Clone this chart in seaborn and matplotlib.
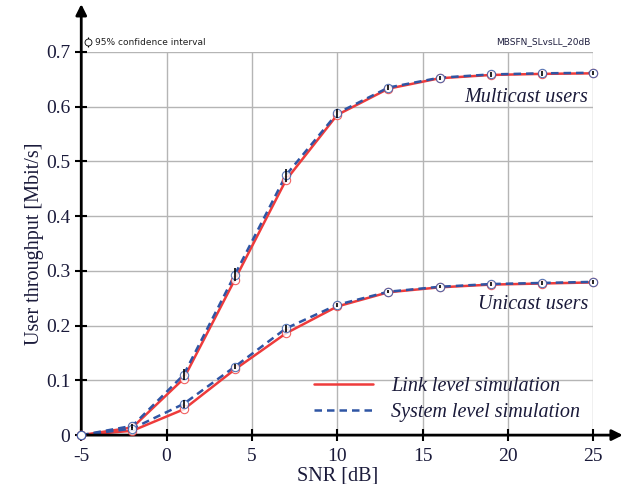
import numpy as np
import pandas as pd
import matplotlib
matplotlib.use("Agg")
import matplotlib.pyplot as plt
import seaborn as sns

snr = [-5, -2, 1, 4, 7, 10, 13, 16, 19, 22, 25]
multi_link = [0.0, 0.014, 0.103, 0.284, 0.466, 0.585, 0.633, 0.652, 0.658, 0.660, 0.661]
multi_sys = [0.0, 0.017, 0.110, 0.293, 0.475, 0.588, 0.635, 0.653, 0.659, 0.661, 0.662]
uni_link = [0.0, 0.008, 0.047, 0.120, 0.186, 0.235, 0.261, 0.270, 0.275, 0.277, 0.279]
uni_sys = [0.0, 0.012, 0.057, 0.125, 0.195, 0.238, 0.262, 0.271, 0.276, 0.278, 0.280]
multi_ci = [0.0, 0.004, 0.010, 0.012, 0.012, 0.008, 0.005, 0.004, 0.004, 0.004, 0.004]
uni_ci = [0.0, 0.003, 0.007, 0.005, 0.007, 0.004, 0.003, 0.003, 0.003, 0.003, 0.003]
xticks = [-5, 0, 5, 10, 15, 20, 25]
xticklabels = ["-5", "0", "5", "10", "15", "20", "25"]
yticks = [0, 0.1, 0.2, 0.3, 0.4, 0.5, 0.6, 0.7]
yticklabels = ["0", "0.1", "0.2", "0.3", "0.4", "0.5", "0.6", "0.7"]

sns.set_theme(style="whitegrid")
plt.rcParams["font.family"] = ["Liberation Serif", "DejaVu Serif"]

RED = "#ee3b3b"
BLUE = "#2f55a4"
TXT = "#1a1a3a"

rows = []
for name, vals, sim in [("multi", multi_link, "Link level simulation"),
                        ("multi", multi_sys, "System level simulation"),
                        ("uni", uni_link, "Link level simulation"),
                        ("uni", uni_sys, "System level simulation")]:
    for x, v in zip(snr, vals):
        rows.append({"SNR": x, "thr": v, "sim": sim, "grp": name})
df = pd.DataFrame(rows)

fig = plt.figure(figsize=(6.25, 4.84), dpi=100)
ax = fig.add_axes([0.13, 0.101, 0.819, 0.7916])

sns.lineplot(data=df, x="SNR", y="thr", hue="sim", style="sim", units="grp",
             estimator=None, palette={"Link level simulation": RED, "System level simulation": BLUE},
             dashes={"Link level simulation": "", "System level simulation": (3, 2)},
             linewidth=1.8, ax=ax, zorder=3)

# markers with confidence intervals
for vals, col in [(multi_link, RED), (uni_link, RED), (multi_sys, BLUE), (uni_sys, BLUE)]:
    ax.plot(snr, vals, linestyle="none", marker="o", markersize=6, markerfacecolor="white",
            markeredgecolor=col, markeredgewidth=0.8, alpha=0.8, zorder=4, clip_on=False)
ax.errorbar(snr, multi_sys, yerr=multi_ci, fmt="none", ecolor="black", elinewidth=1.2, zorder=5, clip_on=False)
ax.errorbar(snr, uni_sys, yerr=uni_ci, fmt="none", ecolor="black", elinewidth=1.2, zorder=5, clip_on=False)

ax.set_xlim(-5, 25)
ax.set_ylim(0, 0.7)
ax.set_xticks(xticks)
ax.set_xticklabels(xticklabels)
ax.set_yticks(yticks)
ax.set_yticklabels(yticklabels)
ax.grid(True, color="#b5b5b5", linewidth=1.0)
for s in ax.spines.values():
    s.set_visible(False)
ax.tick_params(axis="both", labelsize=14, colors="black", direction="inout", length=8, width=1.5,
               bottom=True, left=True)
ax.tick_params(axis="x", pad=5)
ax.tick_params(axis="y", pad=4)
for lab in ax.get_xticklabels() + ax.get_yticklabels():
    lab.set_color(TXT)
ax.set_xlabel("SNR [dB]", fontsize=14.5, labelpad=1, color=TXT)
ax.set_ylabel("User throughput [Mbit/s]", fontsize=14.5, labelpad=1, color=TXT)

# axis arrows
ax.annotate("", xy=(1.058, 0), xytext=(0, 0), xycoords="axes fraction",
            arrowprops=dict(arrowstyle="-|>", lw=2, color="black", mutation_scale=16, shrinkA=0, shrinkB=0))
ax.annotate("", xy=(0, 1.125), xytext=(0, 0), xycoords="axes fraction",
            arrowprops=dict(arrowstyle="-|>", lw=2, color="black", mutation_scale=16, shrinkA=0, shrinkB=0))

leg = ax.legend(loc="lower right", bbox_to_anchor=(1.01, -0.012), frameon=False,
                prop={"family": "Liberation Serif", "style": "italic", "size": 14.5},
                handlelength=2.9, handletextpad=0.9, labelspacing=0.3)
for t in leg.get_texts():
    t.set_color(TXT)

ax.text(24.7, 0.617, "Multicast users", ha="right", va="center", fontsize=14.5, style="italic",
        color=TXT)
ax.text(24.7, 0.238, "Unicast users", ha="right", va="center", fontsize=14.5, style="italic",
        color=TXT)

# top annotations
ax.errorbar([0.014], [1.026], yerr=[0.012], transform=ax.transAxes, fmt="o", markersize=5,
            markerfacecolor="white", markeredgecolor="black", markeredgewidth=0.6, ecolor="black",
            elinewidth=0.8, clip_on=False)
ax.text(0.027, 1.026, "95% confidence interval", transform=ax.transAxes, ha="left", va="center",
        fontsize=6.5, family="DejaVu Sans", color="#202020")
ax.text(0.995, 1.026, "MBSFN_SLvsLL_20dB", transform=ax.transAxes, ha="right", va="center",
        fontsize=6.5, family="DejaVu Sans", color="#202040")

fig.savefig("out.png", dpi=100)
